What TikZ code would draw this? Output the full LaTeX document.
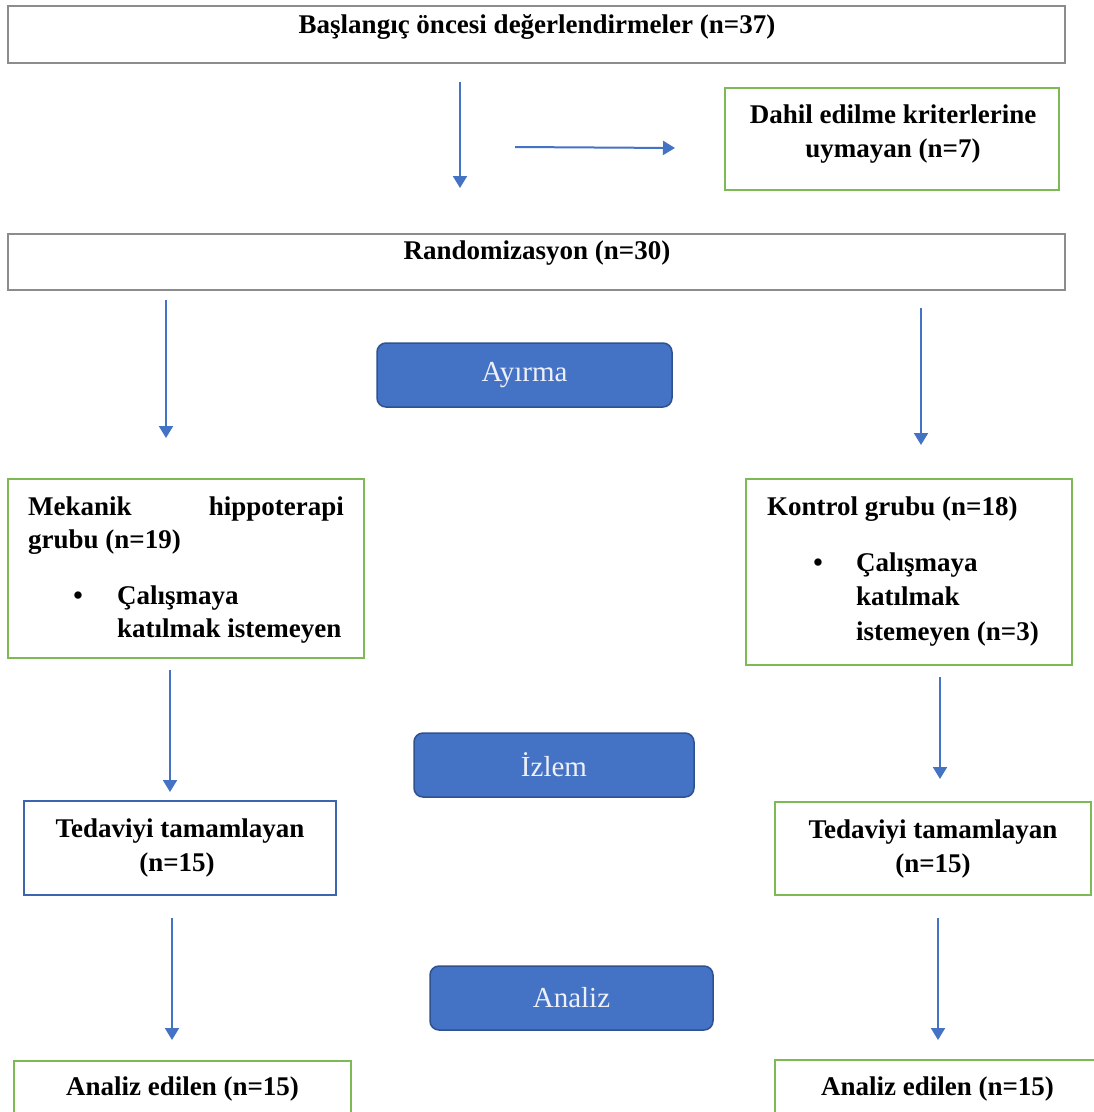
\documentclass[tikz,border=0pt]{standalone}
\usepackage{fontspec}
\setmainfont{Liberation Serif}
\usetikzlibrary{arrows.meta}
\definecolor{arrowblue}{RGB}{68,114,196}
\definecolor{boxgreen}{RGB}{125,185,85}
\definecolor{boxgray}{RGB}{140,140,140}
\definecolor{fillblue}{RGB}{68,114,196}
\definecolor{edgeblue}{RGB}{47,82,143}
\definecolor{frameblue}{RGB}{60,100,175}
\definecolor{labeltext}{RGB}{238,240,248}
\begin{document}
\begin{tikzpicture}[x=1pt,y=-1pt,
 box/.style={rectangle, inner sep=0pt, line width=2pt},
 graybox/.style={box, draw=boxgray},
 greenbox/.style={box, draw=boxgreen},
 bluebox/.style={box, draw=frameblue},
 stage/.style={rectangle, rounded corners=9pt, fill=fillblue, draw=edgeblue, line width=1.5pt, text=labeltext, font=\fontsize{29}{34}\selectfont, inner sep=0pt},
 txt/.style={inner sep=0pt, font=\fontsize{27}{34}\selectfont\bfseries},
 flow/.style={draw=arrowblue, line width=2pt, -{Triangle[width=14pt,length=12pt]}}]
\useasboundingbox (0,0) rectangle (1094,1112);
\fill[white] (0,0) rectangle (1094,1112);
\clip (0,0) rectangle (1094,1112);

% boxes
\node[graybox, minimum width=1057pt, minimum height=57pt] (b1) at (536.5,34.5) {};
\node[greenbox, minimum width=334pt, minimum height=102pt] (b2) at (892,139) {};
\node[graybox, minimum width=1057pt, minimum height=56pt] (b3) at (536.5,262) {};
\node[greenbox, minimum width=356pt, minimum height=179pt] (b4) at (186,568.5) {};
\node[greenbox, minimum width=326pt, minimum height=186pt] (b5) at (909,572) {};
\node[bluebox, minimum width=312pt, minimum height=94pt] (b6) at (180,848) {};
\node[greenbox, minimum width=316pt, minimum height=93pt] (b7) at (933,848.5) {};
\node[greenbox, minimum width=337pt, minimum height=79pt] (b8) at (182.5,1100.5) {};
\node[greenbox, minimum width=345pt, minimum height=80pt] (b9) at (947.5,1100) {};

% stage labels
\node[stage, minimum width=295pt, minimum height=64pt] (s1) at (524.5,375) {Ayırma};
\node[stage, minimum width=280pt, minimum height=64pt] (s2) at (554,765) {İzlem};
\node[stage, minimum width=283pt, minimum height=64pt] (s3) at (571.5,998) {Analiz};

% texts
\node[txt, anchor=base] (t1) at (537,33) {Başlangıç öncesi değerlendirmeler (n=37)};
\node[txt, anchor=base] (t2a) at (893,123) {Dahil edilme kriterlerine};
\node[txt, anchor=base] (t2b) at (893,157) {uymayan (n=7)};
\node[txt, anchor=base] (t3) at (537,259) {Randomizasyon (n=30)};

\node[txt, anchor=base west] (t4a) at (28,515) {Mekanik};
\node[txt, anchor=base east] (t4b) at (344,515) {hippoterapi};
\node[txt, anchor=base west] (t4c) at (28,548) {grubu (n=19)};
\node[txt, anchor=base] (t4d) at (78,604) {\textbullet};
\node[txt, anchor=base west] (t4e) at (117,604) {Çalışmaya};
\node[txt, anchor=base west] (t4f) at (117,637) {katılmak istemeyen};

\node[txt, anchor=base west] (t5a) at (767,515) {Kontrol grubu (n=18)};
\node[txt, anchor=base] (t5b) at (818,571) {\textbullet};
\node[txt, anchor=base west] (t5c) at (856,571) {Çalışmaya};
\node[txt, anchor=base west] (t5d) at (856,605) {katılmak};
\node[txt, anchor=base west] (t5e) at (856,640) {istemeyen (n=3)};

\node[txt, anchor=base] (t6a) at (180,837) {Tedaviyi tamamlayan};
\node[txt, anchor=base] (t6b) at (177,871) {(n=15)};
\node[txt, anchor=base] (t7a) at (933,838) {Tedaviyi tamamlayan};
\node[txt, anchor=base] (t7b) at (933,872) {(n=15)};
\node[txt, anchor=base] (t8) at (182.5,1095) {Analiz edilen (n=15)};
\node[txt, anchor=base] (t9) at (937.5,1095) {Analiz edilen (n=15)};

% arrow end points
\coordinate (a1s) at (460,82);  \coordinate (a1e) at (460,188);
\coordinate (a2s) at (515,147); \coordinate (a2e) at (675,148);
\coordinate (a3s) at (166,300); \coordinate (a3e) at (166,438);
\coordinate (a4s) at (921,308); \coordinate (a4e) at (921,445);
\coordinate (a5s) at (170,670); \coordinate (a5e) at (170,792);
\coordinate (a6s) at (940,677); \coordinate (a6e) at (940,779);
\coordinate (a7s) at (172,918); \coordinate (a7e) at (172,1040);
\coordinate (a8s) at (938,918); \coordinate (a8e) at (938,1040);

\foreach \i in {1,...,8} {\draw[flow] (a\i s) -- (a\i e);}
\end{tikzpicture}
\end{document}
